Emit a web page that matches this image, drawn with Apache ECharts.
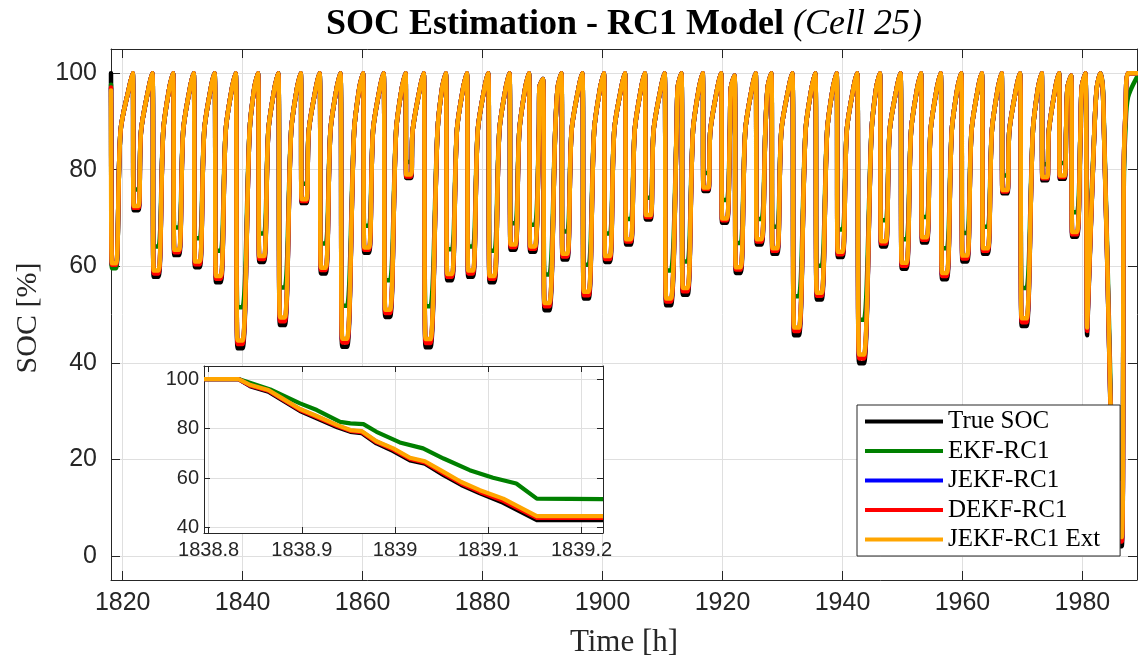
<!DOCTYPE html>
<html><head><meta charset="utf-8">
<script src="https://cdn.jsdelivr.net/npm/echarts@6/dist/echarts.min.js"></script>
<style>html,body{margin:0;padding:0;background:#fff}#c{width:1138px;height:662px}</style>
</head><body><div id="c"></div>
<script>
// ---------- main chart data (hours, SOC %) ----------
const headTime = 1818.05;
const headTrue = 100, headEkf = 97.6, headJekf = 96.8, headDekf = 97.0, headExt = 96.4;

// per discharge/charge cycle: discharge start, discharge end, charge start, knee of charge curve, near-full point
const cycleStart = [1818.06,1821.67,1824.94,1828.39,1831.83,1835.31,1838.83,1842.55,1845.93,1849.68,1852.82,1856.29,1860.06,1863.49,1867.15,1870.18,1873.86,1877.37,1880.93,1884.47,1887.72,1890.06,1893.12,1896.62,1900.21,1903.73,1907.05,1910.33,1913.13,1916.69,1919.76,1921.99,1925.52,1928.12,1931.63,1935.46,1939.01,1942.44,1946.23,1949.66,1953.08,1956.36,1959.78,1963.22,1966.53,1969.59,1973.21,1976.10,1978.11,1980.48];
const dischargeEnd = [1818.20,1821.83,1825.17,1828.60,1832.05,1835.55,1839.15,1842.77,1846.22,1849.83,1853.05,1856.60,1860.27,1863.77,1867.27,1870.50,1874.10,1877.60,1881.17,1884.67,1887.93,1890.33,1893.33,1896.88,1900.43,1903.93,1907.22,1910.60,1913.38,1916.83,1919.93,1922.22,1925.72,1928.33,1931.93,1935.72,1939.22,1942.77,1946.43,1949.88,1953.27,1956.60,1960.00,1963.43,1966.67,1969.88,1973.33,1976.22,1978.30,1980.78];
const chargeStart = [1818.90,1822.63,1825.97,1829.40,1832.85,1836.35,1839.97,1843.57,1847.02,1850.63,1853.85,1857.40,1861.07,1864.57,1868.07,1871.30,1874.90,1878.40,1881.97,1885.47,1888.73,1891.13,1894.13,1897.68,1901.23,1904.73,1908.02,1911.40,1914.18,1917.63,1920.73,1923.02,1926.52,1929.13,1932.73,1936.52,1940.02,1943.57,1947.23,1950.68,1954.07,1957.40,1960.80,1964.23,1967.47,1970.68,1974.13,1977.02,1979.10,1980.88];
const kneeTime = [1819.64,1823.06,1826.76,1830.08,1833.59,1837.17,1841.15,1844.28,1848.08,1851.02,1854.63,1858.58,1861.73,1865.58,1868.33,1872.48,1875.71,1879.19,1882.79,1886.12,1889.39,1892.11,1894.83,1898.59,1901.94,1905.35,1908.50,1912.35,1915.07,1917.96,1921.23,1923.79,1927.14,1929.80,1933.84,1937.44,1940.71,1944.84,1947.86,1951.43,1954.68,1958.21,1961.51,1964.90,1967.81,1971.74,1974.40,1977.28,1979.68,1981.99];
const nearTopTime = [1821.07,1824.34,1827.79,1831.23,1834.71,1838.23,1841.95,1845.33,1849.08,1852.22,1855.69,1859.46,1862.89,1866.55,1869.58,1873.26,1876.77,1880.33,1883.87,1887.12,1889.46,1892.52,1896.02,1899.61,1903.13,1906.45,1909.73,1912.53,1916.09,1919.16,1921.39,1924.92,1927.52,1931.03,1934.86,1938.41,1941.84,1945.63,1949.06,1952.48,1955.76,1959.18,1962.62,1965.93,1968.99,1972.61,1975.50,1977.51,1979.88,1982.40];
const kneeSoc = 88;
const nearTopSoc = 97;
const peakSoc = [96.4,100,100,100,100,100,100,100,100,100,100,100,100,100,100,100,100,100,100,100,100,98.8,100,100,100,100,100,100,100,100,100,99.5,100,100,100,100,100,100,100,100,100,100,100,100,100,100,100,100,99.5,100];

const trueMin = [60.0,71.6,57.8,62.3,59.8,56.7,43.0,60.9,47.8,73.1,58.5,43.3,62.8,49.5,78.3,43.2,57.1,57.8,56.7,63.4,63.0,50.9,61.4,53.3,60.9,64.5,69.7,51.9,54.1,75.6,69.0,58.6,64.5,62.6,45.7,53.1,61.9,39.9,64.1,59.5,64.9,57.3,61.0,62.6,75.1,47.6,77.8,78.1,66.1,45.7];
const ekfMin = [59.6,75.9,64.1,68.0,65.8,63.2,51.5,66.8,55.6,77.1,64.7,51.8,68.4,57.1,81.6,51.7,63.5,64.1,63.2,68.9,68.6,58.3,67.2,60.3,66.8,69.8,74.2,59.1,61.0,79.3,73.7,64.8,69.8,68.2,53.8,60.1,67.6,48.9,69.5,65.6,70.2,63.7,66.9,68.2,78.8,55.5,81.1,81.4,71.2,53.8];
const jekfMin = [60.4,72.2,58.7,63.1,60.7,57.7,44.2,61.8,48.9,73.7,59.4,44.5,63.6,50.6,78.8,44.4,58.0,58.7,57.7,64.2,63.8,52.0,62.2,54.3,61.8,65.3,70.4,53.0,55.1,76.1,69.7,59.5,65.3,63.4,46.9,54.1,62.7,41.2,64.9,60.4,65.7,58.2,61.9,63.4,75.6,48.8,78.3,78.6,66.8,46.9];
const dekfMin = [60.3,72.1,58.5,62.9,60.4,57.4,43.9,61.5,48.6,73.5,59.2,44.2,63.4,50.3,78.6,44.1,57.8,58.5,57.4,64.0,63.6,51.7,62.0,54.0,61.5,65.1,70.2,52.7,54.8,76.0,69.5,59.3,65.1,63.2,46.6,53.9,62.5,40.9,64.7,60.1,65.5,58.0,61.6,63.2,75.5,48.4,78.2,78.5,66.6,46.6];
const extMin = [60.6,72.5,59.1,63.4,61.0,58.0,44.6,62.1,49.4,73.9,59.7,45.0,63.9,51.0,79.0,44.9,58.4,59.1,58.0,64.5,64.1,52.4,62.6,54.7,62.1,65.6,70.6,53.3,55.5,76.3,69.9,59.8,65.6,63.7,47.3,54.5,63.0,41.7,65.2,60.7,66.0,58.6,62.2,63.7,75.8,49.2,78.5,78.8,67.1,47.3];

// final deep discharge and recharge
const tailTime = [1983.00,1983.45,1984.67,1985.25,1986.55,1986.90,1987.20,1987.60,1989.10];
const tailTrue = [100,95.0,31.0,2.0,2.0,80.0,92.0,100,100];
const tailEkf  = [100,96.0,36.0,16.0,16.0,77.0,89.0,95.0,99.2];
const tailJekf = [100,95.3,32.0,3.4,3.4,80.6,92.4,100,100];
const tailDekf = [100,95.2,31.8,3.0,3.0,80.5,92.3,100,100];
const tailExt  = [100,95.4,32.2,3.9,3.9,80.8,92.5,100,100];

// ---------- inset data ----------
const insetTime = [1838.795,1838.832,1838.845,1838.864,1838.879,1838.898,1838.914,1838.938,1838.952,1838.964,1838.980,1838.998,1839.016,1839.032,1839.052,1839.071,1839.091,1839.116,1839.152,1839.223];
const insetTrue = [100,100,97.0,94.9,91.5,87.1,84.5,80.5,78.7,78.2,74.0,70.9,67.1,65.8,61.2,57.2,53.8,50.0,43.0,43.0];
const insetJekf = [100,100,97.4,95.4,92.0,87.7,85.2,81.2,79.2,78.8,74.7,71.7,67.9,66.5,62.1,58.0,54.7,51.2,44.2,44.2];
const insetDekf = [100,100,97.3,95.3,91.9,87.5,85.0,81.0,79.1,78.6,74.5,71.5,67.7,66.3,61.9,57.8,54.4,50.8,43.9,43.9];
const insetExt  = [100,100,97.6,95.6,92.2,87.9,85.4,81.4,79.4,79.0,74.9,72.0,68.2,66.8,62.5,58.4,55.1,51.7,44.6,44.6];
const insetEkfTime = [1838.795,1838.832,1838.866,1838.898,1838.916,1838.941,1838.952,1838.966,1838.980,1839.005,1839.030,1839.052,1839.080,1839.105,1839.130,1839.152,1839.223];
const insetEkf = [100,100,95.8,90.2,87.5,82.7,82.1,81.8,78.7,74.4,72.0,67.9,63.2,60.1,57.8,51.7,51.5];

const seriesNames = ['True SOC','EKF-RC1','JEKF-RC1','DEKF-RC1','JEKF-RC1 Ext'];
const seriesColors = ['#000000','#008000','#0000ff','#ff0000','#ffa500'];

function buildMain(head, mins, tail) {
  const pts = [[headTime, head]];
  for (let i = 0; i < cycleStart.length; i++) {
    pts.push([cycleStart[i], peakSoc[i]]);
    pts.push([dischargeEnd[i], mins[i]]);
    pts.push([chargeStart[i], mins[i]]);
    pts.push([kneeTime[i], kneeSoc]);
    pts.push([nearTopTime[i], nearTopSoc]);
  }
  for (let j = 0; j < tailTime.length; j++) pts.push([tailTime[j], tail[j]]);
  return pts;
}
function zip(t, v) { return t.map((x, i) => [x, v[i]]); }

const mainData = [
  buildMain(headTrue, trueMin, tailTrue),
  buildMain(headEkf, ekfMin, tailEkf),
  buildMain(headJekf, jekfMin, tailJekf),
  buildMain(headDekf, dekfMin, tailDekf),
  buildMain(headExt, extMin, tailExt)
];
const insetData = [
  zip(insetTime, insetTrue),
  zip(insetEkfTime, insetEkf),
  zip(insetTime, insetJekf),
  zip(insetTime, insetDekf),
  zip(insetTime, insetExt)
];

const AX = '#262626', GRID = '#dfdfdf';
const sans = '"Liberation Sans", Arial, Helvetica, sans-serif';
const serif = '"Liberation Serif", "Times New Roman", serif';
const fmt = v => String(+(+v).toFixed(2));

function axis(kind, grid, min, max, split, pos, labels, fs, tickLen, margin, z) {
  return {
    type: 'value', gridIndex: grid, position: pos, min: min, max: max, splitNumber: split,
    z: z,
    axisLine: {show: true, onZero: false, lineStyle: {color: AX, width: 1}},
    axisTick: {show: true, inside: true, length: tickLen, lineStyle: {color: AX}},
    axisLabel: {show: labels, showMinLabel: false, showMaxLabel: false, color: AX, fontSize: fs, fontFamily: sans, margin: margin, formatter: fmt},
    splitLine: {show: labels, lineStyle: {color: GRID, width: 1}}
  };
}

const series = [];
seriesNames.forEach((n, i) => {
  series.push({
    name: n, type: 'line', xAxisIndex: 0, yAxisIndex: 0, data: mainData[i],
    showSymbol: false, symbol: 'none', smooth: 0.3, z: 2 + i * 0.1,
    lineStyle: {color: seriesColors[i], width: 4.5, join: 'round', cap: 'round'}, itemStyle: {color: seriesColors[i]},
    animation: false, silent: true
  });
});
seriesNames.forEach((n, i) => {
  series.push({
    name: n, type: 'line', xAxisIndex: 2, yAxisIndex: 2, data: insetData[i],
    showSymbol: false, symbol: 'none', z: 3 + i * 0.1,
    lineStyle: {color: seriesColors[i], width: 4.2, join: 'round'}, itemStyle: {color: seriesColors[i]},
    animation: false, silent: true
  });
});

const chart = echarts.init(document.getElementById('c'), null, {renderer: 'canvas'});
chart.setOption({
  backgroundColor: '#ffffff',
  animation: false,
  grid: [
    {left: 111, top: 49, width: 1026, height: 531, containLabel: false},
    {left: 204, top: 366, width: 399, height: 167, containLabel: false, show: true, backgroundColor: '#ffffff', borderWidth: 0, z: 1}
  ],
  xAxis: [
    axis('x', 0, 1818.05, 1989.1, 9, 'bottom', true, 25, 9, 11, 0),
    axis('x', 0, 1818.05, 1989.1, 9, 'top', false, 25, 9, 11, 0),
    axis('x', 1, 1838.795, 1839.223, 4, 'bottom', true, 20, 6, 7, 2),
    axis('x', 1, 1838.795, 1839.223, 4, 'top', false, 20, 6, 7, 2)
  ],
  yAxis: [
    axis('y', 0, -5, 105, 5, 'left', true, 25, 9, 14, 0),
    axis('y', 0, -5, 105, 5, 'right', false, 25, 9, 14, 0),
    axis('y', 1, 37.8, 105.3, 3, 'left', true, 20, 6, 5, 2),
    axis('y', 1, 37.8, 105.3, 3, 'right', false, 20, 6, 5, 2)
  ],
  legend: {
    data: seriesNames, orient: 'vertical', left: 857, top: 405,
    icon: 'rect', itemWidth: 78, itemHeight: 4, itemGap: 4.5,
    padding: [4, 20, 4, 8],
    backgroundColor: '#ffffff', borderColor: AX, borderWidth: 1, borderRadius: 0,
    textStyle: {fontFamily: serif, fontSize: 25, color: '#000', lineHeight: 24},
    selectedMode: false, z: 10
  },
  graphic: [
    {type: 'text', x: 624, y: 25, z: 20, style: {
      text: '{b|SOC Estimation - RC1 Model }{i|(Cell 25)}',
      align: 'center', verticalAlign: 'middle', fill: '#000',
      rich: {
        b: {fontFamily: serif, fontWeight: 'bold', fontSize: 36, fill: '#000'},
        i: {fontFamily: serif, fontStyle: 'italic', fontSize: 36, fill: '#000'}
      }
    }},
    {type: 'text', x: 624, y: 643, z: 20, style: {
      text: 'Time [h]', align: 'center', verticalAlign: 'middle', fill: '#262626',
      fontFamily: serif, fontSize: 31
    }},
    {type: 'text', x: 28, y: 318, rotation: Math.PI / 2, z: 20, style: {
      text: 'SOC [%]', align: 'center', verticalAlign: 'middle', fill: '#262626',
      fontFamily: serif, fontSize: 30
    }}
  ],
  series: series
});
</script>
</body></html>
